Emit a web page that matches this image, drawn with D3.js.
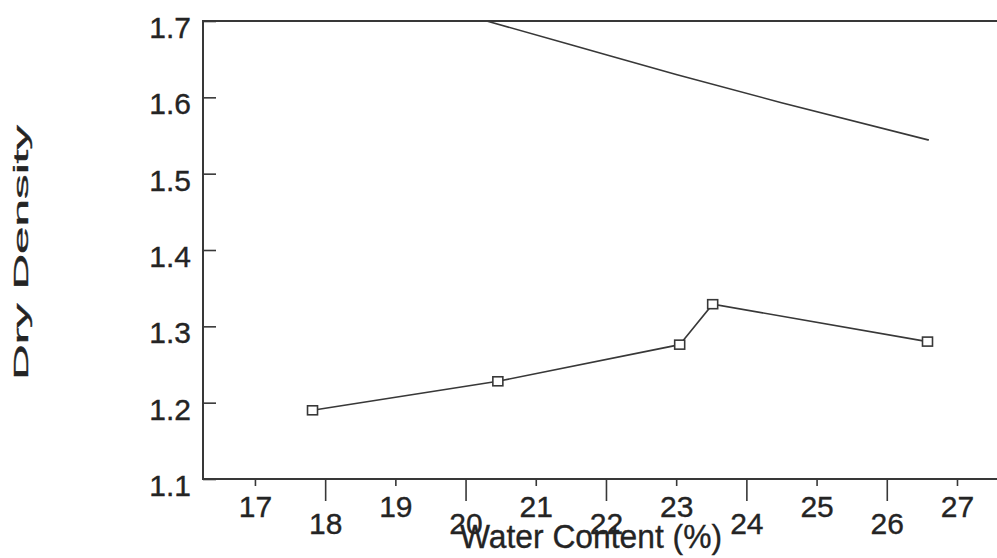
<!DOCTYPE html>
<html>
<head>
<meta charset="utf-8">
<script src="https://cdn.jsdelivr.net/npm/d3@7"></script>
<style>
  html, body { margin: 0; padding: 0; background: #fff; }
  svg { display: block; }
  text { font-family: "Liberation Sans", Arial, sans-serif; fill: #242424; stroke: #242424; stroke-width: 0.35px; }
</style>
</head>
<body>
<svg id="chart" width="997" height="558"></svg>
<script>
// Compaction test: water content (%) vs dry density
const waterContent = [17.82, 20.46, 23.05, 23.52, 26.58];
const dryDensity   = [1.190, 1.228, 1.276, 1.329, 1.280];

// Zero-air-voids (saturation) line
const zavWater   = [20.3, 21.5, 23.0, 24.5, 26.6];
const zavDensity = [1.700, 1.669, 1.630, 1.593, 1.544];

const xTicks = [17, 18, 19, 20, 21, 22, 23, 24, 25, 26, 27];
const yTicks = [1.1, 1.2, 1.3, 1.4, 1.5, 1.6, 1.7];
const xDomain = [16.26, 27.57];
const yDomain = [1.1, 1.7];

const svg = d3.select("#chart");
const plotLeft = 203, plotRight = 997, plotTop = 21, plotBottom = 479;
const ink = "#383838";

const x = d3.scaleLinear().domain(xDomain).range([plotLeft, plotRight]);
const y = d3.scaleLinear().domain(yDomain).range([plotBottom, plotTop]);

svg.append("defs").append("clipPath").attr("id", "plotClip")
  .append("rect").attr("x", plotLeft).attr("y", plotTop)
  .attr("width", plotRight - plotLeft).attr("height", plotBottom - plotTop);

// frame: left, top and bottom edges
svg.append("path")
  .attr("d", `M${plotRight},${plotTop}H${plotLeft}V${plotBottom}H${plotRight}`)
  .attr("fill", "none").attr("stroke", ink).attr("stroke-width", 2);

// x axis: odd ticks short with raised labels, even ticks long with lowered labels
const xAxis = svg.append("g")
  .attr("transform", `translate(0,${plotBottom})`)
  .call(d3.axisBottom(x).tickValues(xTicks).tickFormat(d3.format("d")).tickSizeOuter(0));
xAxis.select(".domain").remove();
xAxis.selectAll(".tick line")
  .attr("stroke", ink).attr("stroke-width", 1.6)
  .attr("y2", d => d % 2 === 0 ? 22 : 7);
xAxis.selectAll(".tick text")
  .attr("fill", "#242424")
  .attr("font-size", 30)
  .attr("dy", null)
  .attr("y", d => d % 2 === 0 ? 55 : 38);

// y axis: inward ticks
const yAxis = svg.append("g")
  .attr("transform", `translate(${plotLeft},0)`)
  .call(d3.axisLeft(y).tickValues(yTicks).tickFormat(d3.format(".1f"))
    .tickSizeInner(-13).tickSizeOuter(0).tickPadding(12));
yAxis.select(".domain").remove();
yAxis.selectAll(".tick line").attr("stroke", ink).attr("stroke-width", 1.6);
yAxis.selectAll(".tick text")
  .attr("fill", "#242424")
  .attr("font-size", 30)
  .attr("x", -12)
  .attr("dy", null)
  .attr("y", 16.5);

const plot = svg.append("g").attr("clip-path", "url(#plotClip)");

plot.append("path")
  .datum(d3.zip(zavWater, zavDensity))
  .attr("d", d3.line().x(d => x(d[0])).y(d => y(d[1])).curve(d3.curveMonotoneX))
  .attr("fill", "none").attr("stroke", ink).attr("stroke-width", 1.6);

const pts = d3.zip(waterContent, dryDensity);
plot.append("path")
  .datum(pts)
  .attr("d", d3.line().x(d => x(d[0])).y(d => y(d[1])))
  .attr("fill", "none").attr("stroke", ink).attr("stroke-width", 1.6);

plot.selectAll("rect.mk")
  .data(pts)
  .join("rect")
  .attr("class", "mk")
  .attr("x", d => x(d[0]) - 5)
  .attr("y", d => y(d[1]) - 4.5)
  .attr("width", 10).attr("height", 9)
  .attr("fill", "#fff").attr("stroke", ink).attr("stroke-width", 1.6);

// axis titles
svg.append("text")
  .attr("x", 460).attr("y", 548)
  .attr("font-size", 34)
  .attr("textLength", 262).attr("lengthAdjust", "spacingAndGlyphs")
  .text("Water Content (%)");

svg.append("text")
  .attr("transform", "translate(28,380) rotate(-90)")
  .attr("x", 0).attr("y", 0)
  .attr("font-size", 21)
  .attr("font-family", "'DejaVu Sans', sans-serif")
  .attr("textLength", 255).attr("lengthAdjust", "spacingAndGlyphs")
  .text("Dry Density");
</script>
</body>
</html>
